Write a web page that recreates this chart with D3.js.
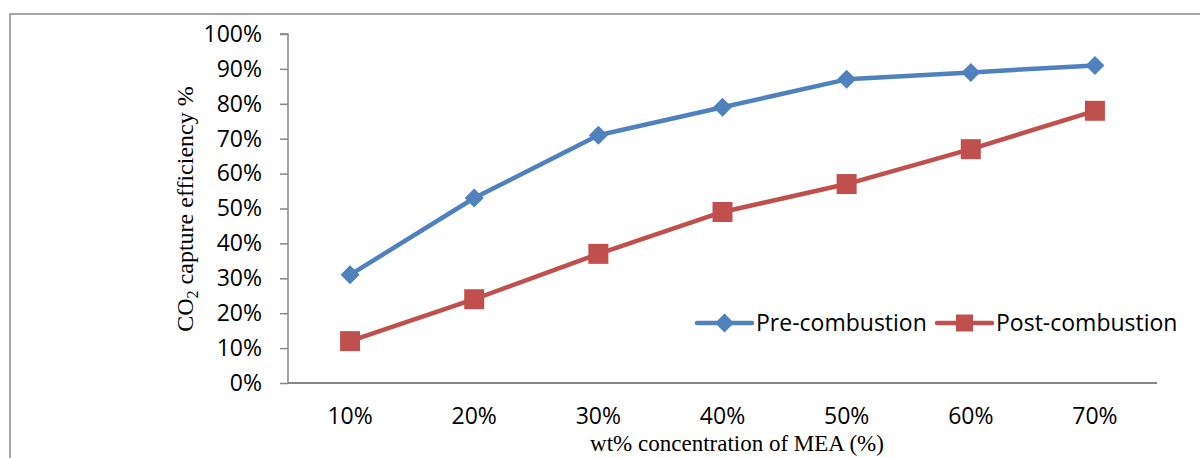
<!DOCTYPE html>
<html>
<head>
<meta charset="utf-8">
<script src="https://cdn.jsdelivr.net/npm/d3@7"></script>
<style>
  html, body { margin: 0; padding: 0; background: #fff; }
  svg { display: block; }
</style>
</head>
<body>
<svg id="chart" width="1200" height="458"></svg>
<script>
// MEA concentration levels (category axis)
const categories = ["10%", "20%", "30%", "40%", "50%", "60%", "70%"];
// CO2 capture efficiency, percent
const preCombustion = [31, 53, 71, 79, 87, 89, 91];
const postCombustion = [12, 24, 37, 49, 57, 67, 78];
const yTicks = [0, 10, 20, 30, 40, 50, 60, 70, 80, 90, 100];
const seriesNames = ["Pre-combustion", "Post-combustion"];

const svg = d3.select("#chart");
const W = 1200, H = 458;
const plot = { left: 288, right: 1157, top: 34, bottom: 383 };
const tickFont = "'Open Sans', sans-serif";
const serif = "'Liberation Serif', 'Times New Roman', serif";
const blue = "#4F81BD", red = "#C0504D", axisGrey = "#868686";
const tickSize = 23;

// outer chart frame
svg.append("rect")
  .attr("x", 10).attr("y", 14).attr("width", W + 20).attr("height", H + 20)
  .attr("fill", "none").attr("stroke", "#8a8a8a").attr("stroke-width", 1.5);

const x = d3.scaleBand().domain(categories).range([plot.left, plot.right]);
const y = d3.scaleLinear().domain([0, 100]).range([plot.bottom, plot.top]);

// y axis
const yAxis = d3.axisLeft(y).tickValues(yTicks).tickSize(8).tickPadding(18)
  .tickFormat(d => d + "%");
const gy = svg.append("g").attr("transform", `translate(${plot.left},0)`).call(yAxis);
gy.select(".domain").attr("stroke", axisGrey).attr("stroke-width", 1.5)
  .attr("d", `M-8,${plot.top}H0V${plot.bottom}`);
gy.selectAll(".tick line").attr("stroke", axisGrey).attr("stroke-width", 1.5);
gy.selectAll(".tick text").attr("font-family", tickFont).attr("font-size", tickSize)
  .attr("fill", "#000");

// x axis
const xAxis = d3.axisBottom(x).tickSize(0).tickPadding(25);
const gx = svg.append("g").attr("transform", `translate(0,${plot.bottom})`).call(xAxis);
gx.select(".domain").attr("stroke", axisGrey).attr("stroke-width", 2)
  .attr("d", `M${plot.left},0H${plot.right}`);
gx.selectAll(".tick text").attr("font-family", tickFont).attr("font-size", tickSize)
  .attr("fill", "#000");

// axis titles
svg.append("text")
  .attr("x", 737).attr("y", 451)
  .attr("text-anchor", "middle")
  .attr("font-family", serif).attr("font-size", 23).attr("fill", "#000")
  .text("wt% concentration of MEA (%)");

const yTitle = svg.append("text")
  .attr("transform", "translate(193,209) rotate(-90)")
  .attr("text-anchor", "middle")
  .attr("font-family", serif).attr("font-size", 24).attr("fill", "#000");
yTitle.append("tspan").text("CO");
yTitle.append("tspan").attr("font-size", 16).attr("dy", 5).text("2");
yTitle.append("tspan").attr("dy", -5).text(" capture efficiency %");

const cx = d => x(d) + x.bandwidth() / 2;
const line = d3.line().x(d => cx(d.c)).y(d => y(d.v));

function drawSeries(values, color, shape) {
  const pts = categories.map((c, i) => ({ c, v: values[i] }));
  svg.append("path").datum(pts).attr("d", line)
    .attr("fill", "none").attr("stroke", color).attr("stroke-width", 4.5)
    .attr("stroke-linejoin", "round").attr("stroke-linecap", "round");
  svg.append("g").selectAll("path").data(pts).join("path")
    .attr("transform", d => `translate(${cx(d.c)},${y(d.v)})`)
    .attr("d", shape).attr("fill", color);
}
const diamond = "M0,-9.5L9.5,0L0,9.5L-9.5,0Z";
const square = "M-10,-10H10V10H-10Z";
drawSeries(preCombustion, blue, diamond);
drawSeries(postCombustion, red, square);

// legend
const legend = [
  { name: seriesNames[0], color: blue, shape: diamond, x0: 697 },
  { name: seriesNames[1], color: red, shape: "M-8.5,-8.5H8.5V8.5H-8.5Z", x0: 937 }
];
const ly = 323;
legend.forEach(l => {
  const g = svg.append("g");
  g.append("line").attr("x1", l.x0).attr("x2", l.x0 + 55).attr("y1", ly).attr("y2", ly)
    .attr("stroke", l.color).attr("stroke-width", 4.5).attr("stroke-linecap", "round");
  g.append("path").attr("transform", `translate(${l.x0 + 27.5},${ly})`)
    .attr("d", l.shape).attr("fill", l.color);
  g.append("text").attr("x", l.x0 + 59).attr("y", ly + 8)
    .attr("font-family", tickFont).attr("font-size", tickSize).attr("fill", "#000")
    .text(l.name);
});
</script>
</body>
</html>
